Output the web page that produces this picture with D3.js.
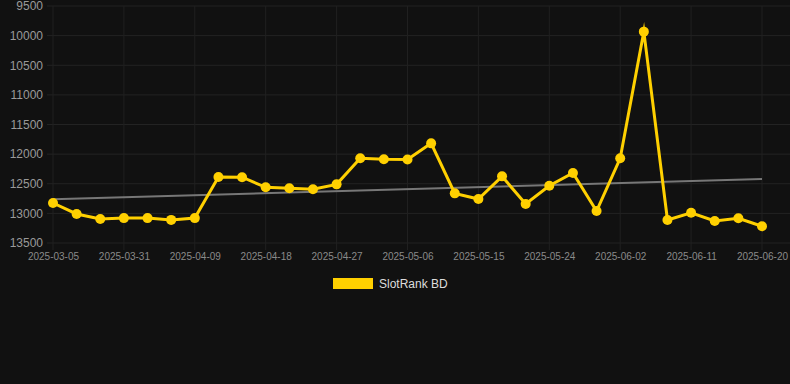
<!DOCTYPE html>
<html>
<head>
<meta charset="utf-8">
<script src="https://cdn.jsdelivr.net/npm/d3@7"></script>
<style>
  html, body { margin: 0; padding: 0; background: #111111; }
  svg { display: block; font-family: "Liberation Sans", Arial, sans-serif; }
</style>
</head>
<body>
<svg></svg>
<script>
// dates shown on the category axis (one point each)
let dates = ["2025-03-05", "2025-03-14", "2025-03-23", "2025-03-31", "2025-04-03", "2025-04-06",
    "2025-04-09", "2025-04-12", "2025-04-15", "2025-04-18", "2025-04-21", "2025-04-24",
    "2025-04-27", "2025-04-30", "2025-05-03", "2025-05-06", "2025-05-09", "2025-05-12",
    "2025-05-15", "2025-05-18", "2025-05-21", "2025-05-24", "2025-05-27", "2025-05-30",
    "2025-06-02", "2025-06-05", "2025-06-08", "2025-06-11", "2025-06-14", "2025-06-17",
    "2025-06-20"]

let rankValues = [12825, 13010, 13095, 13080, 13080, 13110, 13080, 12386, 12390, 12560,
    12577, 12594, 12510, 12070, 12087, 12090, 11818, 12662, 12757, 12375,
    12842, 12533, 12319, 12960, 12071, 9933, 13112, 12989, 13129, 13083,
    13218]

let yTicks = [9500, 10000, 10500, 11000, 11500, 12000, 12500, 13000, 13500]
let seriesName = "SlotRank BD"

var width = 790
var height = 384

var svg = d3.select("svg")
    .attr("width", width)
    .attr("height", height)

var margin = {top: 6, right: 28, bottom: 141, left: 53}
var graphWidth = width - margin.left - margin.right
var graphHeight = height - margin.top - margin.bottom

var mainCanvas = svg.append("g")
    .attr("transform", `translate(${margin.left}, ${margin.top})`)

let scX = d3.scalePoint()
    .domain(dates)
    .range([0, graphWidth])

// rank axis is reversed: small numbers at the top
let scY = d3.scaleLinear()
    .domain([9500, 13500])
    .range([0, graphHeight])

let labelDates = dates.filter((d, i) => i % 3 === 0)

// grid
mainCanvas.append("g")
    .selectAll("line")
    .data(yTicks).enter().append("line")
    .attr("x1", -6)
    .attr("x2", graphWidth + margin.right)
    .attr("y1", d => scY(d))
    .attr("y2", d => scY(d))
    .attr("stroke", "#232323")
    .attr("stroke-width", 1)

mainCanvas.append("g")
    .selectAll("line")
    .data(labelDates).enter().append("line")
    .attr("x1", d => scX(d))
    .attr("x2", d => scX(d))
    .attr("y1", 0)
    .attr("y2", graphHeight + 7)
    .attr("stroke", "#202020")
    .attr("stroke-width", 1)

// y labels
let yAxis = d3.axisLeft(scY)
    .tickValues(yTicks)
    .tickFormat(d3.format("d"))
    .tickSize(0)
    .tickPadding(10)

let yG = mainCanvas.append("g").call(yAxis)
yG.select(".domain").remove()
yG.selectAll("text")
    .attr("fill", "#9a9a9a")
    .style("font-size", "12px")

// x labels
let xAxis = d3.axisBottom(scX)
    .tickValues(labelDates)
    .tickSize(0)
    .tickPadding(10)

let xG = mainCanvas.append("g")
    .attr("transform", `translate(0, ${graphHeight})`)
    .call(xAxis)
xG.select(".domain").remove()
xG.selectAll("text")
    .attr("fill", "#8a8a8a")
    .style("font-size", "10px")

// linear trend (least squares on point index)
let n = rankValues.length
let xs = rankValues.map((d, i) => i)
let mx = d3.mean(xs)
let my = d3.mean(rankValues)
let slope = d3.sum(xs, (x, i) => (x - mx) * (rankValues[i] - my)) / d3.sum(xs, x => (x - mx) * (x - mx))
let icpt = my - slope * mx
let trend = [icpt, icpt + slope * (n - 1)]

mainCanvas.append("line")
    .attr("x1", scX(dates[0]))
    .attr("x2", scX(dates[n - 1]))
    .attr("y1", scY(trend[0]))
    .attr("y2", scY(trend[1]))
    .attr("stroke", "#777777")
    .attr("stroke-width", 2)

let valueLine = d3.line()
    .x((d, i) => scX(dates[i]))
    .y(d => scY(d))

mainCanvas.append("path")
    .datum(rankValues)
    .attr("d", valueLine)
    .attr("fill", "none")
    .attr("stroke", "#FFD000")
    .attr("stroke-width", 3)
    .attr("stroke-miterlimit", 10)

mainCanvas.selectAll("circle")
    .data(rankValues).enter().append("circle")
    .attr("cx", (d, i) => scX(dates[i]))
    .attr("cy", d => scY(d))
    .attr("r", 5)
    .attr("fill", "#FFD000")

// legend
let legend = svg.append("g")
    .attr("transform", "translate(333, 278)")

legend.append("rect")
    .attr("width", 40)
    .attr("height", 11)
    .attr("fill", "#FFD000")

legend.append("text")
    .attr("x", 46)
    .attr("y", 10)
    .attr("fill", "#dddddd")
    .style("font-size", "12px")
    .text(seriesName)
</script>
</body>
</html>
